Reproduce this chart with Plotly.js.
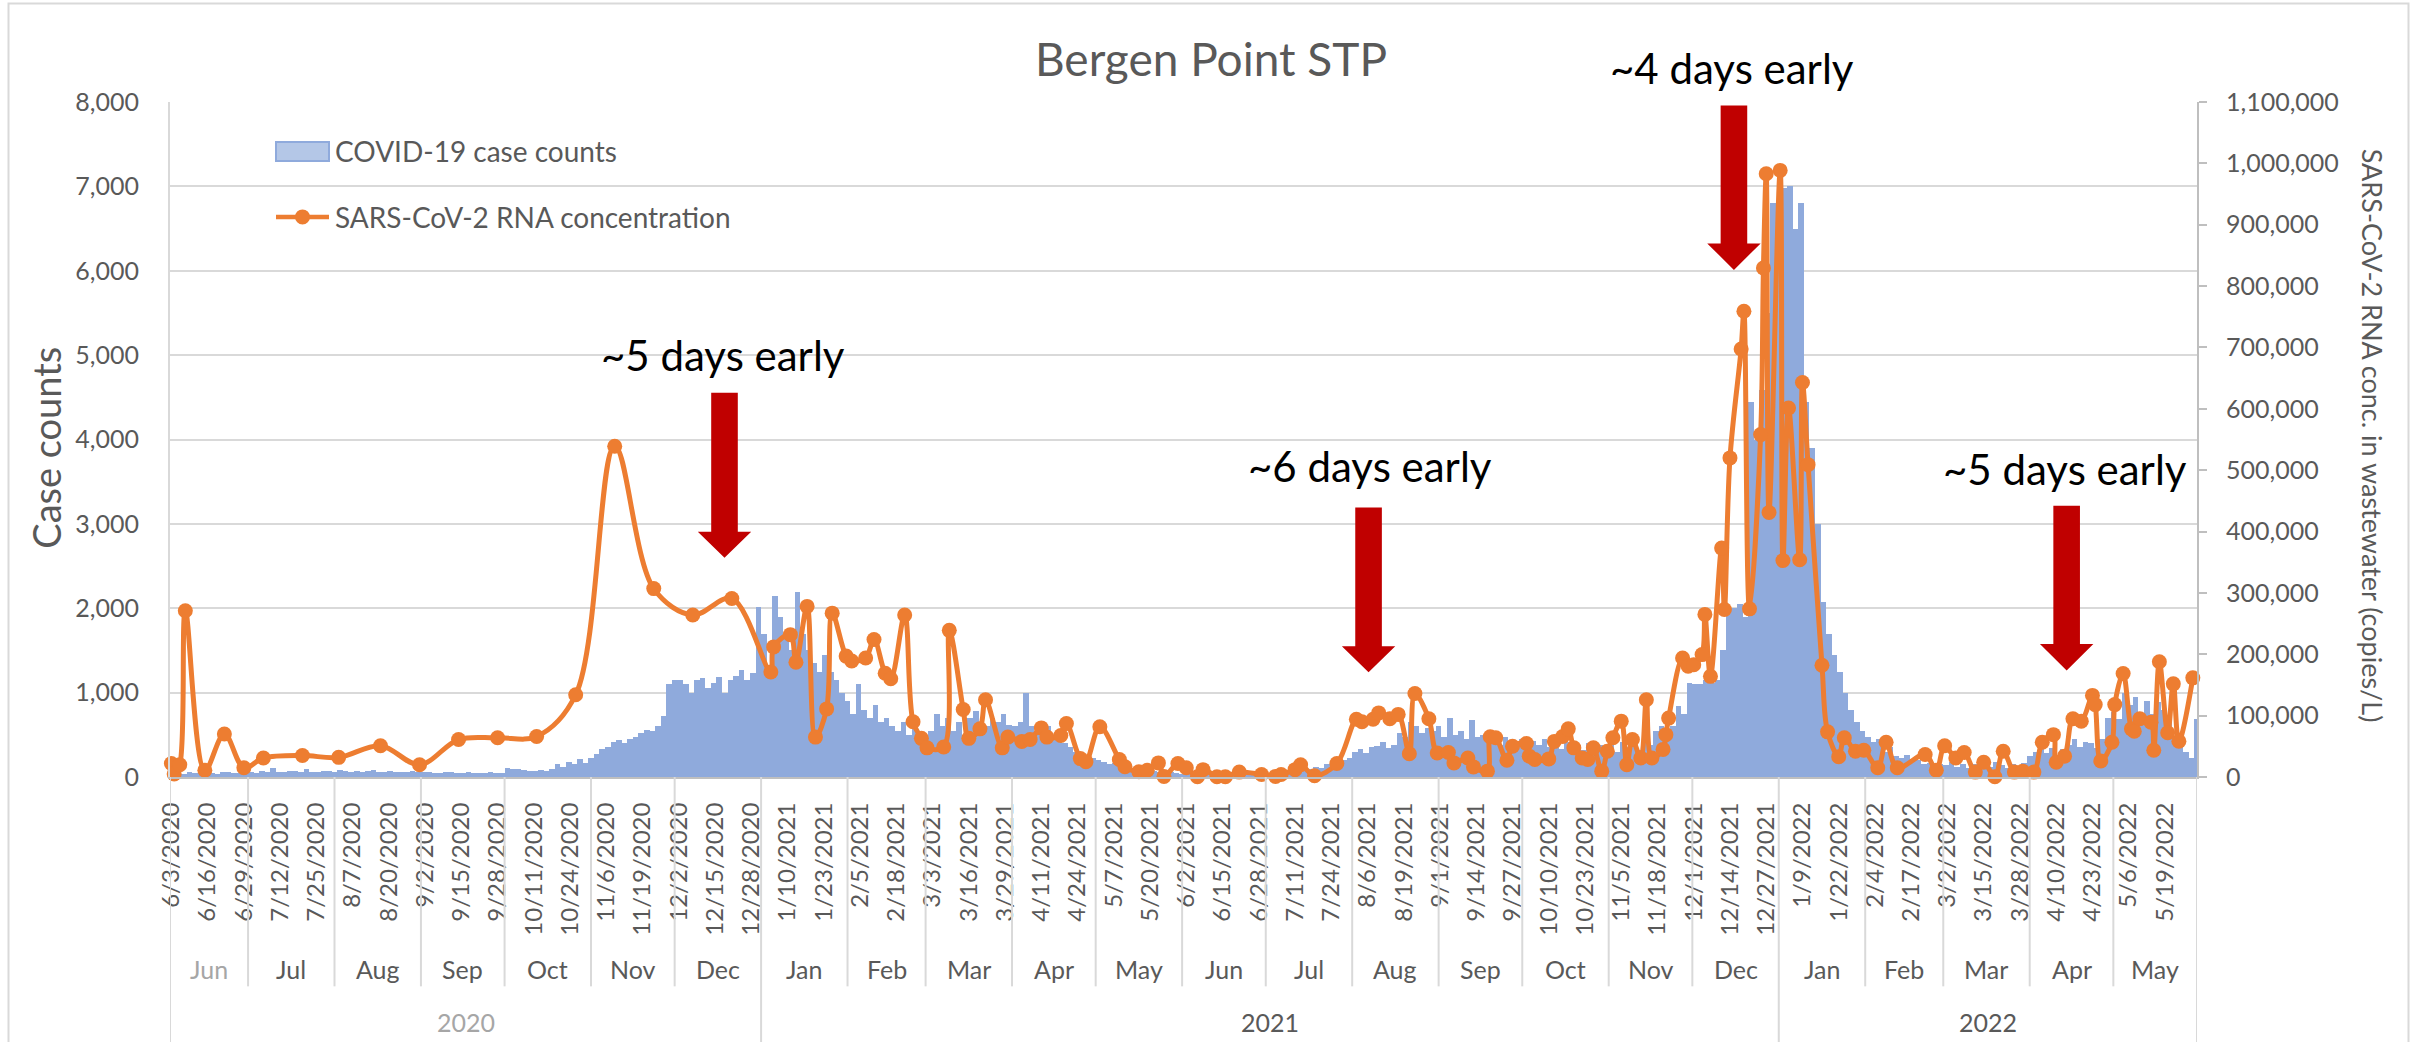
<!DOCTYPE html>
<html>
<head>
<meta charset="utf-8">
<script src="https://cdn.plot.ly/plotly-3.0.1.min.js"></script>
<style>
  html, body { margin: 0; padding: 0; background: #ffffff; }
  #chart { width: 2422px; height: 1042px; }
</style>
</head>
<body>
<div id="chart"></div>
<script>
// ---------------- DATA ----------------
// COVID-19 case counts in 2-day bins, starting 6/3/2020
const caseStartDate = '2020-06-03';
const caseBinDays = 2;
const caseCounts = [
  // Jun 2020
  45,55,40,60,50,45,55,50,40,60,55,45,50,55,
  // Jul
  60,50,70,55,110,65,60,75,70,55,90,65,60,75,70,60,
  // Aug
  80,70,60,75,65,70,85,60,65,70,60,55,65,70,60,
  // Sep
  55,60,50,45,60,55,50,45,55,50,45,50,55,45,50,
  // Oct
  110,100,90,80,75,70,80,75,90,150,120,180,160,210,170,230,
  // Nov
  270,330,350,420,440,400,450,480,520,560,540,600,720,1100,1150,
  // Dec
  1150,1100,1000,1150,1170,1050,1120,1180,1000,1150,1200,1270,1150,1230,2020,
  // Jan 2021
  1700,1300,2150,1900,1650,1500,2190,1700,1500,1350,1250,1450,1250,1150,1000,900,
  // Feb
  750,1100,800,700,850,650,700,600,550,650,500,600,450,500,
  // Mar
  550,750,600,700,550,650,500,700,780,650,600,700,650,750,620,
  // Apr
  600,650,1000,600,550,480,600,500,450,400,350,300,280,250,220,
  // May
  200,180,150,170,130,120,100,90,80,70,75,60,50,55,45,40,
  // Jun
  35,30,40,25,30,20,25,30,20,25,30,25,35,30,40,
  // Jul
  40,50,45,60,55,70,80,100,120,110,150,180,160,200,220,
  // Aug
  300,330,280,350,370,420,340,380,520,480,650,600,520,580,540,600,
  // Sep
  480,700,500,550,450,680,480,500,420,450,380,470,420,400,450,
  // Oct
  400,430,380,450,350,400,330,420,360,380,320,400,350,380,330,
  // Nov
  380,300,420,350,400,320,450,380,550,600,500,600,840,750,1120,1100,
  // Dec
  1100,1150,1120,1150,1500,1950,2000,2050,1900,4450,4000,4590,5500,6800,6200,
  // Jan 2022
  6980,7000,6500,6800,4440,3900,3000,2070,1700,1450,1250,1000,800,650,550,
  // Feb
  480,420,450,300,350,250,220,260,180,200,150,170,130,150,
  // Mar
  140,180,120,160,110,150,130,100,120,180,140,110,160,130,170,250,
  // Apr
  300,370,280,340,260,330,380,450,350,420,400,340,450,700,770,
  // May
  690,1000,850,950,700,900,750,890,800,690,490,350,300,220,690
];

// SARS-CoV-2 RNA concentration samples (copies/L)
const rnaDates = [
  '2020-06-03','2020-06-04','2020-06-06','2020-06-08','2020-06-15','2020-06-22','2020-06-29',
  '2020-07-06','2020-07-20','2020-08-02','2020-08-17','2020-08-31','2020-09-14','2020-09-28',
  '2020-10-12','2020-10-26','2020-11-09','2020-11-23','2020-12-07','2020-12-21',
  '2021-01-04','2021-01-05','2021-01-11','2021-01-13','2021-01-17','2021-01-20','2021-01-24','2021-01-26',
  '2021-01-31','2021-02-02','2021-02-07','2021-02-10','2021-02-14','2021-02-16','2021-02-21','2021-02-24',
  '2021-02-27','2021-03-01','2021-03-07','2021-03-09','2021-03-14','2021-03-16','2021-03-20','2021-03-22',
  '2021-03-28','2021-03-30','2021-04-04','2021-04-07','2021-04-11','2021-04-13','2021-04-18','2021-04-20',
  '2021-04-25','2021-04-27','2021-05-02','2021-05-09','2021-05-11','2021-05-16','2021-05-19','2021-05-23',
  '2021-05-25','2021-05-30','2021-06-02','2021-06-06','2021-06-08','2021-06-13','2021-06-16','2021-06-21',
  '2021-06-29','2021-07-04','2021-07-06','2021-07-11','2021-07-13','2021-07-18','2021-07-26',
  '2021-08-02','2021-08-04','2021-08-08','2021-08-10','2021-08-14','2021-08-17','2021-08-21','2021-08-23',
  '2021-08-28','2021-08-31','2021-09-04','2021-09-06','2021-09-11','2021-09-13','2021-09-18','2021-09-19',
  '2021-09-21','2021-09-25','2021-09-27','2021-10-02','2021-10-03','2021-10-05','2021-10-10','2021-10-12',
  '2021-10-15','2021-10-17','2021-10-19','2021-10-22','2021-10-24','2021-10-26','2021-10-29','2021-10-31',
  '2021-11-02','2021-11-05','2021-11-07','2021-11-09','2021-11-12','2021-11-14','2021-11-16','2021-11-20',
  '2021-11-21','2021-11-22','2021-11-27','2021-11-29','2021-12-01','2021-12-04','2021-12-05','2021-12-07',
  '2021-12-11','2021-12-12','2021-12-14','2021-12-18','2021-12-19','2021-12-21','2021-12-25','2021-12-26',
  '2021-12-27','2021-12-28','2022-01-01','2022-01-02','2022-01-04','2022-01-08','2022-01-09','2022-01-11',
  '2022-01-16','2022-01-18','2022-01-22','2022-01-24','2022-01-28','2022-01-31','2022-02-05','2022-02-08',
  '2022-02-12','2022-02-22','2022-02-26','2022-03-01','2022-03-05','2022-03-08','2022-03-12','2022-03-15',
  '2022-03-19','2022-03-22','2022-03-26','2022-03-29','2022-04-02','2022-04-05','2022-04-09','2022-04-10',
  '2022-04-13','2022-04-16','2022-04-19','2022-04-23','2022-04-24','2022-04-26','2022-04-30','2022-05-01',
  '2022-05-04','2022-05-07','2022-05-08','2022-05-10','2022-05-14','2022-05-15','2022-05-17','2022-05-20',
  '2022-05-22','2022-05-24','2022-05-29'
];
const rnaValues = [
  22000,5000,20000,271000,11000,70000,15000,
  31000,35000,32000,51000,20000,61000,64000,
  66000,134000,539000,307000,264000,291000,
  171000,212000,232000,187000,278000,65000,111000,267000,
  197000,189000,194000,224000,169000,160000,264000,90000,
  63000,47500,49000,239000,110000,63000,78500,126000,
  47500,65000,58000,61000,80000,65000,67600,87000,
  30000,25000,82000,28500,16600,8500,11000,23000,
  1000,22000,15000,500,12000,500,500,8000,
  4000,1000,4000,12000,20000,2000,22000,
  94000,90000,94000,104500,95000,102000,38000,136000,
  95000,39000,40000,23000,31000,16500,9500,65500,
  64000,27400,50000,54500,34000,28500,29500,58000,
  66000,78500,47500,31000,28500,47500,9500,42000,
  64000,91000,20000,61000,31000,126000,31000,45000,
  69000,96000,194000,180500,183000,199500,265000,164000,
  373000,273000,520000,697500,759000,274000,558000,829500,
  983000,431000,988500,352700,601400,354000,643000,509000,
  182000,73600,33000,64000,42000,43700,15000,56700,
  15000,36600,11000,51000,31000,40000,8000,24000,
  500,42000,8000,9500,8000,56700,69000,24000,
  34000,95000,91000,133000,118000,26000,56700,118000,
  168600,78500,74600,95000,89300,43700,187700,72000,
  151800,58300,161600
];

// Category (date) tick labels shown on the x axis
const dateTickLabels = [
  '6/3/2020','6/16/2020','6/29/2020','7/12/2020','7/25/2020','8/7/2020','8/20/2020','9/2/2020',
  '9/15/2020','9/28/2020','10/11/2020','10/24/2020','11/6/2020','11/19/2020','12/2/2020','12/15/2020',
  '12/28/2020','1/10/2021','1/23/2021','2/5/2021','2/18/2021','3/3/2021','3/16/2021','3/29/2021',
  '4/11/2021','4/24/2021','5/7/2021','5/20/2021','6/2/2021','6/15/2021','6/28/2021','7/11/2021',
  '7/24/2021','8/6/2021','8/19/2021','9/1/2021','9/14/2021','9/27/2021','10/10/2021','10/23/2021',
  '11/5/2021','11/18/2021','12/1/2021','12/14/2021','12/27/2021','1/9/2022','1/22/2022','2/4/2022',
  '2/17/2022','3/2/2022','3/15/2022','3/28/2022','4/10/2022','4/23/2022','5/6/2022','5/19/2022'
];
const monthLabels = ['Jan','Feb','Mar','Apr','May','Jun','Jul','Aug','Sep','Oct','Nov','Dec'];
const yearLabels = ['2020','2021','2022'];
const seriesNames = ['COVID-19 case counts','SARS-CoV-2 RNA concentration'];
const calloutTexts = ['~5 days early','~6 days early','~4 days early','~5 days early'];
const axisEndDate = '2022-05-31';

// ---------------- HELPERS ----------------
const DAY = 86400000;
function ms(dateStr) { const p = dateStr.split('-').map(Number); return Date.UTC(p[0], p[1]-1, p[2]); }
function iso(t) { return new Date(t).toISOString().slice(0,19).replace('T',' '); }
function pathDate(t) { return new Date(t).toISOString().slice(0,19).replace('T','_'); }
function parseIsoSpace(s) { const [d, h] = s.split(' '); const [hh, mm] = h.split(':').map(Number); return ms(d) + (hh*60+mm)*60000; }
const t0 = ms(caseStartDate);
const tEnd = ms(axisEndDate);

const caseX = caseCounts.map((v,k) => iso(t0 + (k*caseBinDays + caseBinDays/2)*DAY));
const rnaX = rnaDates.map(d => iso(ms(d) + DAY/2));
const tickVals = dateTickLabels.map(s => { const p = s.split('/').map(Number); return iso(Date.UTC(p[2], p[0]-1, p[1]) + DAY/2); });

// ---------------- LAYOUT GEOMETRY ----------------
const W = 2422, H = 1042;
const M = {l:170, r:225, t:102, b:264.5};
const plotW = W - M.l - M.r, plotH = H - M.t - M.b;
const pxY = (py) => (H - M.b - py) / plotH;
const pxX = (px) => (px - M.l) / plotW;
const dayPx = plotW / ((tEnd - t0)/DAY);
const leftPerPx = 8000 / plotH;
function toLeft(py) { return (H - M.b - py) * leftPerPx; }

const FONT = 'Lato, "Open Sans", sans-serif';
const GREY = '#595959';
const BAR_COLOR = '#8FAADC';
const LINE_COLOR = '#ED7D31';

const shapes = [];
const annotations = [];

// chart border
shapes.push({type:'rect', xref:'paper', yref:'paper', x0:pxX(8.5), x1:pxX(2408.5), y0:pxY(1060), y1:pxY(3.5),
  line:{color:'#D9D9D9', width:2}, fillcolor:'rgba(0,0,0,0)', layer:'below'});

// month / year separators and labels
const monthBounds = [t0];
{
  const d = new Date(t0); let y = d.getUTCFullYear(), m = d.getUTCMonth();
  while (true) { m++; if (m > 11) { m = 0; y++; } const t = Date.UTC(y, m, 1); if (t >= tEnd) break; monthBounds.push(t); }
  monthBounds.push(tEnd);
}
for (let i = 0; i < monthBounds.length; i++) {
  const t = monthBounds[i];
  const dt = new Date(t);
  const isYear = (i === 0 || i === monthBounds.length-1 || (dt.getUTCMonth() === 0 && dt.getUTCDate() === 1));
  shapes.push({type:'line', xref:'x', yref:'paper', x0:iso(t), x1:iso(t), y0:0, y1: isYear ? pxY(1060) : pxY(987),
    line:{color:'#D9D9D9', width:2}});
  if (i < monthBounds.length-1) {
    const mid = (t + monthBounds[i+1]) / 2;
    annotations.push({xref:'x', yref:'paper', x:iso(mid), y:pxY(970), text:monthLabels[dt.getUTCMonth()],
      showarrow:false, xanchor:'center', yanchor:'middle',
      font:{family:FONT, size:25, color: i === 0 ? '#A6A6A6' : GREY}});
  }
}
yearLabels.forEach((yr, i) => {
  const y = Number(yr);
  const a = Math.max(t0, Date.UTC(y,0,1)), b = Math.min(tEnd, Date.UTC(y+1,0,1));
  annotations.push({xref:'x', yref:'paper', x:iso((a+b)/2), y:pxY(1023), text:yr, showarrow:false,
    xanchor:'center', yanchor:'middle', font:{family:FONT, size:25, color: i === 0 ? '#A6A6A6' : GREY}});
});

// red arrows + callout text
const arrowSpecs = [
  {center:'2020-12-18 21:00', top:393, headTop:532, tip:558},
  {center:'2021-08-06 21:00', top:507.7, headTop:646.7, tip:672.7},
  {center:'2021-12-15 22:00', top:105.5, headTop:243.5, tip:270},
  {center:'2022-04-14 06:00', top:506, headTop:644.3, tip:671}
];
const textSpecs = [
  {center:'2020-12-18 12:00', y:355},
  {center:'2021-08-07 10:00', y:466.7},
  {center:'2021-12-15 05:00', y:68.3},
  {center:'2022-04-13 19:00', y:469}
];
arrowSpecs.forEach(a => {
  const c = parseIsoSpace(a.center);
  const sw = 13.3 / dayPx * DAY, hw = 26.7 / dayPx * DAY;
  const yt = toLeft(a.top), yh = toLeft(a.headTop), yp = toLeft(a.tip);
  const path = `M${pathDate(c-sw)},${yt} L${pathDate(c+sw)},${yt} L${pathDate(c+sw)},${yh} L${pathDate(c+hw)},${yh} ` +
    `L${pathDate(c)},${yp} L${pathDate(c-hw)},${yh} L${pathDate(c-sw)},${yh} Z`;
  shapes.push({type:'path', xref:'x', yref:'y', path, fillcolor:'#C00000', line:{width:0}, layer:'above'});
});
textSpecs.forEach((t, i) => {
  annotations.push({xref:'x', yref:'paper', x:t.center, y:pxY(t.y), text:calloutTexts[i], showarrow:false,
    xanchor:'center', yanchor:'middle', font:{family:FONT, size:42, color:'#000000'}});
});

// axis titles
annotations.push({xref:'paper', yref:'paper', x:pxX(46), y:pxY(448), text:'Case counts', textangle:-90,
  showarrow:false, xanchor:'center', yanchor:'middle', font:{family:FONT, size:38, color:GREY}});
annotations.push({xref:'paper', yref:'paper', x:pxX(2372), y:pxY(436), text:'SARS-CoV-2 RNA conc. in wastewater (copies/L)',
  textangle:90, showarrow:false, xanchor:'center', yanchor:'middle', font:{family:FONT, size:27, color:GREY}});

// legend (drawn to match the original's wide legend keys)
shapes.push({type:'rect', xref:'paper', yref:'paper', x0:pxX(276), x1:pxX(329), y0:pxY(161), y1:pxY(142),
  fillcolor:'#B4C7E7', line:{color:BAR_COLOR, width:2}, layer:'above'});
shapes.push({type:'line', xref:'paper', yref:'paper', x0:pxX(276), x1:pxX(329), y0:pxY(217), y1:pxY(217),
  line:{color:LINE_COLOR, width:4.5}, layer:'above'});
shapes.push({type:'circle', xref:'paper', yref:'paper', x0:pxX(295), x1:pxX(310), y0:pxY(224.5), y1:pxY(209.5),
  fillcolor:LINE_COLOR, line:{color:LINE_COLOR, width:0}, layer:'above'});
annotations.push({xref:'paper', yref:'paper', x:pxX(333), y:pxY(151), text:seriesNames[0], showarrow:false,
  xanchor:'left', yanchor:'middle', font:{family:FONT, size:28, color:GREY}});
annotations.push({xref:'paper', yref:'paper', x:pxX(333), y:pxY(217), text:seriesNames[1], showarrow:false,
  xanchor:'left', yanchor:'middle', font:{family:FONT, size:28, color:GREY}});

// ---------------- TRACES ----------------
const traces = [
  {type:'bar', name:seriesNames[0], x:caseX, y:caseCounts, width:caseBinDays*DAY,
   marker:{color:BAR_COLOR, line:{width:0}}, hoverinfo:'skip', showlegend:false},
  {type:'scatter', mode:'lines+markers', name:seriesNames[1], x:rnaX, y:rnaValues, yaxis:'y2',
   line:{color:LINE_COLOR, width:5, shape:'spline', smoothing:1},
   marker:{color:LINE_COLOR, size:15}, hoverinfo:'skip', cliponaxis:false, showlegend:false}
];

const layout = {
  width: W, height: H,
  margin: {l:M.l, r:M.r, t:M.t, b:M.b, pad:0},
  paper_bgcolor:'#ffffff', plot_bgcolor:'#ffffff',
  font:{family:FONT, color:GREY},
  title:{text:'Bergen Point STP', font:{family:FONT, size:46, color:GREY},
    x:0.5, xref:'container', xanchor:'center', y:1 - 60/H, yref:'container', yanchor:'middle'},
  showlegend:false,
  bargap:0,
  hovermode:false,
  xaxis:{type:'date', range:[iso(t0), iso(tEnd)], tickmode:'array', tickvals:tickVals, ticktext:dateTickLabels,
    tickangle:-90, tickfont:{family:FONT, size:24, color:GREY}, ticks:'', showgrid:false, zeroline:false,
    showline:true, linecolor:'#BFBFBF', linewidth:2, ticklabelstandoff:14, fixedrange:true},
  yaxis:{range:[0,8000], dtick:1000, tickformat:',', tickfont:{family:FONT, size:25, color:GREY},
    showgrid:true, gridcolor:'#D9D9D9', gridwidth:2, zeroline:false, showline:true, linecolor:'#D9D9D9', linewidth:2,
    ticks:'', ticklabelstandoff:24, fixedrange:true},
  yaxis2:{overlaying:'y', side:'right', range:[0,1100000], dtick:100000, tickformat:',',
    tickfont:{family:FONT, size:25, color:GREY}, showgrid:false, zeroline:false, showline:true,
    linecolor:'#BFBFBF', linewidth:2, ticks:'outside', ticklen:8, tickcolor:'#BFBFBF', tickwidth:2,
    ticklabelstandoff:14, fixedrange:true},
  shapes, annotations
};

Plotly.newPlot('chart', traces, layout, {staticPlot:true, displayModeBar:false});
</script>
</body>
</html>
